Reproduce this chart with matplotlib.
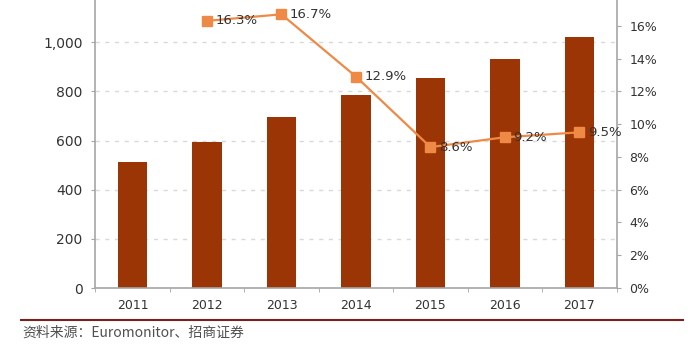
import matplotlib.pyplot as plt
from matplotlib.ticker import FuncFormatter, PercentFormatter

plt.rcParams['font.family'] = ['DejaVu Sans', 'Noto Sans CJK SC']

# data
years = ['2011', '2012', '2013', '2014', '2015', '2016', '2017']
sales = [513, 595, 697, 785, 853, 932, 1020]
growth_years = ['2012', '2013', '2014', '2015', '2016', '2017']
growth = [16.3, 16.7, 12.9, 8.6, 9.2, 9.5]
source = '资料来源：Euromonitor、招商证券'

bar_color = '#9C3506'
line_color = '#EE8A45'
text_color = '#333333'
spine_color = '#A6A6A6'

fig = plt.figure(figsize=(7, 3.5), dpi=100)
ax = fig.add_axes([0.136, 0.177, 0.745, 0.843])

x = list(range(len(years)))
ax.bar(x, sales, width=0.4, color=bar_color, zorder=2)
ax.set_xlim(-0.5, len(years) - 0.5)
ax.set_ylim(0, 1200)
ax.set_yticks(range(0, 1201, 200))
ax.yaxis.set_major_formatter(FuncFormatter(lambda v, p: f'{int(v):,}'))
ax.set_xticks(x)
ax.set_xticklabels(years)
ax.set_xticks([i - 0.5 for i in range(len(years) + 1)], minor=True)
ax.tick_params(axis='x', which='major', length=0, pad=8, labelsize=9, labelcolor=text_color)
ax.tick_params(axis='x', which='minor', length=3, color=spine_color, direction='out')
ax.tick_params(axis='y', length=3, color=spine_color, labelsize=10, labelcolor=text_color, pad=6)
ax.grid(axis='y', linestyle=(0, (3, 4)), color='#D9D9D9', linewidth=1, zorder=0)
for s in ['top', 'right']:
    ax.spines[s].set_visible(False)
for s in ['left', 'bottom']:
    ax.spines[s].set_color(spine_color)
    ax.spines[s].set_linewidth(1.2)

ax2 = ax.twinx()
gx = [years.index(y) for y in growth_years]
ax2.plot(gx, growth, color=line_color, linewidth=1.6, marker='s', markersize=7.5,
         markerfacecolor=line_color, markeredgecolor=line_color, zorder=3)
for xi, g in zip(gx, growth):
    ax2.annotate(f'{g}%', (xi, g), xytext=(6, 0), textcoords='offset points',
                 ha='left', va='center', fontsize=9.5, color=text_color)
ax2.set_ylim(0, 18)
ax2.set_yticks(range(0, 19, 2))
ax2.yaxis.set_major_formatter(PercentFormatter(decimals=0))
ax2.tick_params(axis='y', length=3, color=spine_color, labelsize=9, labelcolor=text_color, pad=6)
for s in ['top', 'left', 'bottom']:
    ax2.spines[s].set_visible(False)
ax2.spines['right'].set_color(spine_color)
ax2.spines['right'].set_linewidth(1.2)

# bottom rule and source note
fig.add_artist(plt.Line2D([0.03, 0.975], [0.086, 0.086], color='#7A1E1E', linewidth=1.5))
fig.text(0.032, 0.05, source, fontsize=10, color='#505050', va='center',
         family=['Noto Sans CJK SC', 'DejaVu Sans'])

fig.savefig('out.png', dpi=100)
